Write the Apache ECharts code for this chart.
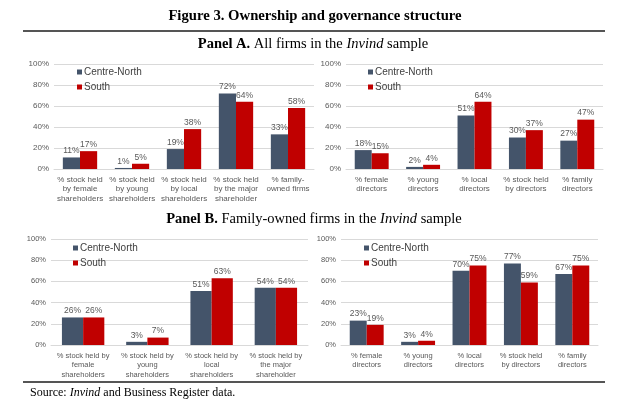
<!DOCTYPE html>
<html>
<head>
<meta charset="utf-8">
<script src="https://cdn.jsdelivr.net/npm/echarts@6/dist/echarts.min.js"></script>
<style>
html,body{margin:0;padding:0;background:#fff;}
#chart{width:643px;height:416px;}
</style>
</head>
<body>
<div id="chart"></div>
<script>
// ---- Data ----
const seriesNames = ['Centre-North', 'South'];

const catsAL = ['% stock held\nby female\nshareholders', '% stock held\nby young\nshareholders', '% stock held\nby local\nshareholders', '% stock held\nby the major\nshareholder', '% family-\nowned firms'];
const cnAL = [11, 1, 19, 72, 33];
const soAL = [17, 5, 38, 64, 58];

const catsAR = ['% female\ndirectors', '% young\ndirectors', '% local\ndirectors', '% stock held\nby directors', '% family\ndirectors'];
const cnAR = [18, 2, 51, 30, 27];
const soAR = [15, 4, 64, 37, 47];

const catsBL = ['% stock held by\nfemale\nshareholders', '% stock held by\nyoung\nshareholders', '% stock held by\nlocal\nshareholders', '% stock held by\nthe major\nshareholder'];
const cnBL = [26, 3, 51, 54];
const soBL = [26, 7, 63, 54];

const catsBR = ['% female\ndirectors', '% young\ndirectors', '% local\ndirectors', '% stock held\nby directors', '% family\ndirectors'];
const cnBR = [23, 3, 70, 77, 67];
const soBR = [19, 4, 75, 59, 75];

const yTicks = [0, 20, 40, 60, 80, 100];

// ---- Styles ----
const CN_COLOR = '#44546A';
const SO_COLOR = '#C00000';
const SANS = '"Liberation Sans", Arial, sans-serif';
const SERIF = '"Liberation Serif", "Times New Roman", serif';

const grids = [
  {left: 54, top: 64, width: 260, height: 105},
  {left: 346, top: 64, width: 257, height: 105},
  {left: 51, top: 239, width: 257, height: 106},
  {left: 341, top: 239, width: 257, height: 106}
];
const catSets = [catsAL, catsAR, catsBL, catsBR];
const cnSets = [cnAL, cnAR, cnBL, cnBR];
const soSets = [soAL, soAR, soBL, soBR];
const axFont = [8, 8, 7.5, 7.5];

const xAxes = catSets.map((c, i) => ({
  type: 'category', gridIndex: i, data: c,
  axisLine: {show: true, lineStyle: {color: '#d9d9d9', width: 1}},
  axisTick: {show: false},
  axisLabel: {interval: 0, color: '#595959', fontFamily: SANS, fontSize: axFont[i], lineHeight: 9.5, margin: 6}
}));
const yAxes = catSets.map((c, i) => ({
  type: 'value', gridIndex: i, min: 0, max: 100, interval: 20,
  axisLine: {show: false}, axisTick: {show: false},
  splitLine: {lineStyle: {color: '#d9d9d9', width: 1}},
  axisLabel: {color: '#595959', fontFamily: SANS, fontSize: axFont[i], margin: 5,
    formatter: v => yTicks.includes(v) ? v + '%' : ''}
}));

const series = [];
catSets.forEach((c, i) => {
  [cnSets[i], soSets[i]].forEach((d, k) => {
    series.push({
      type: 'bar', name: seriesNames[k], xAxisIndex: i, yAxisIndex: i, data: d,
      barGap: '0%', barCategoryGap: '34%',
      itemStyle: {color: k === 0 ? CN_COLOR : SO_COLOR},
      label: {show: true, position: 'top', distance: 2, formatter: '{c}%', color: '#595959', fontFamily: SANS, fontSize: 8.5},
      emphasis: {disabled: true}
    });
  });
});

const legendPos = [[77, 67], [368, 67], [73, 243], [364, 243]];
const legends = legendPos.map((p, i) => ({
  left: p[0], top: p[1], orient: 'vertical', itemWidth: 5, itemHeight: 5, itemGap: 5,
  icon: 'rect', data: seriesNames, selectedMode: false,
  textStyle: {color: '#404040', fontFamily: SANS, fontSize: 10, padding: [0, 0, 0, -3]},
  padding: 0
}));

function rt(size) {
  return {
    fontFamily: SERIF, fontSize: size, fontWeight: 'normal', color: '#000',
    rich: {
      b: {fontFamily: SERIF, fontWeight: 'bold', fontSize: size, color: '#000'},
      i: {fontFamily: SERIF, fontStyle: 'italic', fontWeight: 'normal', fontSize: size, color: '#000'},
      r: {fontFamily: SERIF, fontWeight: 'normal', fontSize: size, color: '#000'}
    }
  };
}

const titles = [
  {text: '{b|Figure 3. Ownership and governance structure}', left: 315, top: 16, textAlign: 'center', textStyle: rt(14.7)},
  {text: '{b|Panel A.}{r| All firms in the }{i|Invind}{r| sample}', left: 313, top: 44, textAlign: 'center', textStyle: rt(14.5)},
  {text: '{b|Panel B.}{r| Family-owned firms in the }{i|Invind}{r| sample}', left: 314, top: 219, textAlign: 'center', textStyle: rt(14.5)},
  {text: '{r|Source: }{i|Invind}{r| and Business Register data.}', left: 30, top: 393, textStyle: rt(12)}
];

const chart = echarts.init(document.getElementById('chart'), null, {renderer: 'canvas'});
chart.setOption({
  animation: false,
  backgroundColor: '#fff',
  title: titles.map(t => Object.assign({padding: 0, textVerticalAlign: 'middle'}, t)),
  grid: grids,
  xAxis: xAxes,
  yAxis: yAxes,
  legend: legends,
  series: series,
  graphic: [
    {type: 'line', shape: {x1: 23, y1: 31, x2: 605, y2: 31}, style: {stroke: '#555', lineWidth: 2}},
    {type: 'line', shape: {x1: 23, y1: 382, x2: 605, y2: 382}, style: {stroke: '#555', lineWidth: 2}}
  ]
});
</script>
</body>
</html>
